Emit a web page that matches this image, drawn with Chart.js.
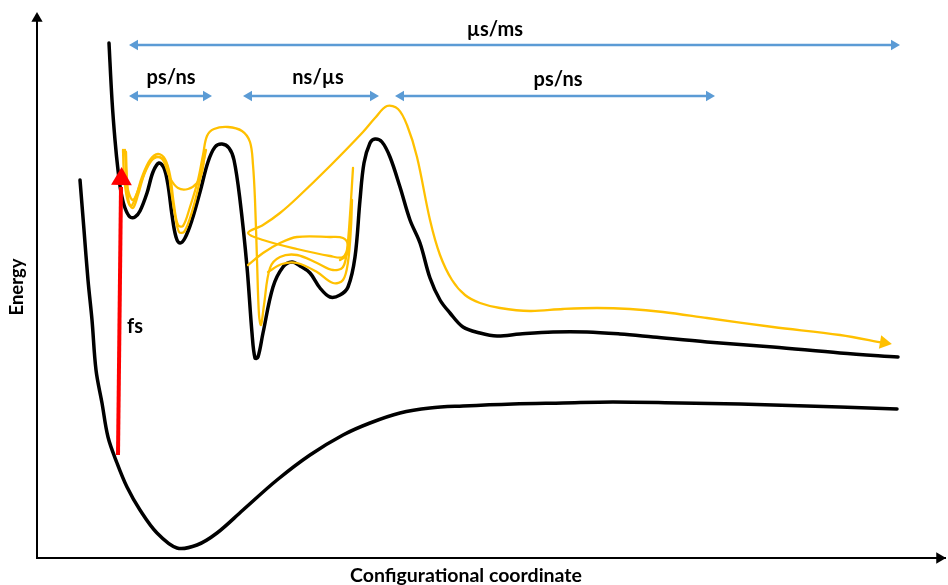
<!DOCTYPE html>
<html>
<head>
<meta charset="utf-8">
<script src="https://cdn.jsdelivr.net/npm/chart.js@4.4.0/dist/chart.umd.min.js"></script>
<style>
  html, body { margin: 0; padding: 0; background: #fff; }
  #wrap { width: 948px; height: 585px; position: relative; }
</style>
</head>
<body>
<div id="wrap"><canvas id="c"></canvas></div>
<script>
// ---- Data (configurational coordinate, energy) in arbitrary units ----
const groundX = [43,47,51,55,59,65,71,80,90,103,120,140,160,180,206,240,273,306,333,363,393,426,476,526,576,643,703,803,860];
const groundE = [378,328,278,238,188,155,121,95,71,48,25,10,13,25,48,78,103,123,135,145,150,152,154,155,156,155,154,151,149];

const excitedX = [72,75,78,81,84,88,93,98,103,110,116,122,127,131,135,139,143,148,155,163,171,178,185,192,197,203,210,215,218,221,226,236,246,255,263,273,283,293,303,311,318,323,327,333,338,345,353,363,373,383,393,403,413,426,443,460,483,516,550,583,616,670,736,803,861];
const excitedE = [515,458,418,388,366,350,341,341,347,365,386,395,390,373,343,321,315,320,338,366,396,411,414,410,398,358,291,225,200,201,225,271,291,296,292,285,270,261,263,271,301,358,395,415,419,416,401,371,338,315,280,258,245,231,225,222,224,226,226,224,221,216,211,205,201];

// main relaxation trajectory
const traj1X = [86,87,90,94,99,105,113,121,128,133,137,141,146,153,161,166,170,177,191,205,213,216,218,220,222,224,227,233,243,260,280,296,306,310,313,316,314,311,306,293,260,226,211,226,243,260,293,326,338,350,361,370,380,393,403,415,428,443,463,493,526,560,593,626,670,736,803,847];
const traj1E = [408,383,360,352,362,381,398,404,399,383,353,333,332,351,378,403,422,429,431,427,416,393,358,298,243,233,253,290,301,303,295,288,291,308,343,390,358,313,301,302,309,318,325,333,345,360,392,426,440,452,449,433,401,338,303,278,263,255,250,247,249,250,249,246,240,231,223,215];
const traj2X = [89,90,92,96,101,107,115,123,130,134,138,142,147,153,160,166,169];
const traj2E = [406,378,355,350,363,383,398,401,393,368,343,326,326,340,365,393,408];
const traj3X = [88,89,91,96,103,111,119,126,133,141,151,160,165,168];
const traj3E = [408,388,368,358,373,393,401,398,380,370,369,375,386,408];
const traj4X = [211,226,243,260,293,306,311,309,303];
const traj4E = [293,305,315,321,321,320,313,302,298];
const traj5X = [231,245,260,280,296,306,311,314,315];
const traj5E = [286,294,295,286,275,278,296,331,358];
const trajArrowHead = { x: 847, e: 215.3, angle: 99.5 };

// red excitation arrow (fs)
const exciteX = [81, 84];
const exciteE = [103, 371];
const exciteHead = { x: 84.5, e: 379, angle: 0.7 };

// time-scale arrows
const spanLabels = ['µs/ms', 'ps/ns', 'ns/µs', 'ps/ns'];
const spanStart  = [98, 98, 212, 364];
const spanEnd    = [857, 169, 336, 672];
const spanLevel  = [513, 462, 462, 462];
const spanLabelX = [458, 134, 281, 521];
const spanLabelE = [528, 480, 480, 478];

const noteText = ['fs'];
const noteX = [98];
const noteE = [231];

const xAxisTitle = 'Configurational coordinate';
const xAxisTitleAt = 429;   // position along the coordinate axis

// ---- Chart ----
const YELLOW = '#FFC000', BLUE = '#5B9BD5', RED = '#FF0000', BLACK = '#000000';
const pts = (xs, ys) => xs.map((v, i) => ({ x: v, y: ys[i] }));
const curve = (xs, ys, color, width, order) => ({
  data: pts(xs, ys), showLine: true, borderColor: color, borderWidth: width,
  pointRadius: 0, tension: 0.35, fill: false, clip: false, order,
  borderCapStyle: 'round', borderJoinStyle: 'round'
});

const datasets = [
  curve(groundX, groundE, BLACK, 3.5, 5),
  curve(excitedX, excitedE, BLACK, 3.5, 5),
  curve(traj2X, traj2E, YELLOW, 2.3, 4),
  curve(traj3X, traj3E, YELLOW, 2.3, 4),
  curve(traj4X, traj4E, YELLOW, 2.3, 4),
  curve(traj5X, traj5E, YELLOW, 2.3, 4),
  curve(traj1X, traj1E, YELLOW, 2.3, 3),
  {
    data: [{ x: trajArrowHead.x, y: trajArrowHead.e }], showLine: false,
    pointStyle: 'triangle', pointRadius: 8, pointRotation: trajArrowHead.angle,
    pointBackgroundColor: YELLOW, pointBorderWidth: 0, clip: false, order: 3
  },
  {
    data: pts(exciteX, exciteE), showLine: true, borderColor: RED, borderWidth: 4,
    pointRadius: 0, tension: 0, clip: false, order: 1
  },
  {
    data: [{ x: exciteHead.x, y: exciteHead.e }], showLine: false,
    pointStyle: 'triangle', pointRadius: 12, pointRotation: exciteHead.angle,
    pointBackgroundColor: RED, pointBorderWidth: 0, clip: false, order: 1
  },
  // axis arrowheads
  {
    data: [{ x: 0, y: 539.5 }, { x: 902.5, y: 0 }], showLine: false,
    pointStyle: 'triangle', pointRadius: 6.5, pointRotation: [0, 90],
    pointBackgroundColor: BLACK, pointBorderWidth: 0, clip: false, order: 0
  }
];
spanStart.forEach((s, i) => {
  datasets.push({
    data: [{ x: s, y: spanLevel[i] }, { x: spanEnd[i], y: spanLevel[i] }],
    showLine: true, borderColor: BLUE, borderWidth: 2.5, tension: 0,
    pointStyle: 'triangle', pointRadius: 6, pointRotation: [270, 90],
    pointBackgroundColor: BLUE, pointBorderWidth: 0, clip: false, order: 2
  });
});

const labelPlugin = {
  id: 'textLabels',
  afterDatasetsDraw(chart) {
    const { ctx, chartArea, scales: { x, y } } = chart;
    ctx.save();
    ctx.fillStyle = BLACK;
    ctx.font = 'bold 20px Lato';
    ctx.textAlign = 'center';
    ctx.textBaseline = 'middle';
    spanLabels.forEach((t, i) => ctx.fillText(t, x.getPixelForValue(spanLabelX[i]), y.getPixelForValue(spanLabelE[i])));
    noteText.forEach((t, i) => ctx.fillText(t, x.getPixelForValue(noteX[i]), y.getPixelForValue(noteE[i])));
    ctx.font = 'bold 19.5px Lato';
    ctx.fillText(xAxisTitle, x.getPixelForValue(xAxisTitleAt), chartArea.bottom + 18);
    ctx.restore();
  }
};

new Chart(document.getElementById('c'), {
  type: 'scatter',
  data: { datasets },
  plugins: [labelPlugin],
  options: {
    responsive: true,
    maintainAspectRatio: false,
    animation: false,
    events: [],
    layout: { autoPadding: false, padding: { left: 0, top: 16, right: 3, bottom: 27 } },
    plugins: { legend: { display: false }, tooltip: { enabled: false } },
    scales: {
      x: {
        type: 'linear', min: 0, max: 908,
        ticks: { display: false },
        grid: { display: false, drawTicks: false },
        border: { display: true, color: BLACK, width: 2 },
        title: { display: false }
      },
      y: {
        type: 'linear', min: 0, max: 542,
        ticks: { display: false },
        grid: { display: false, drawTicks: false },
        border: { display: true, color: BLACK, width: 2 },
        title: { display: true, text: 'Energy', color: BLACK,
                 font: { family: 'Lato', size: 18.5, weight: 'bold', lineHeight: 1 }, padding: { top: 7.75, bottom: 10.75 } }
      }
    }
  }
});
</script>
</body>
</html>
